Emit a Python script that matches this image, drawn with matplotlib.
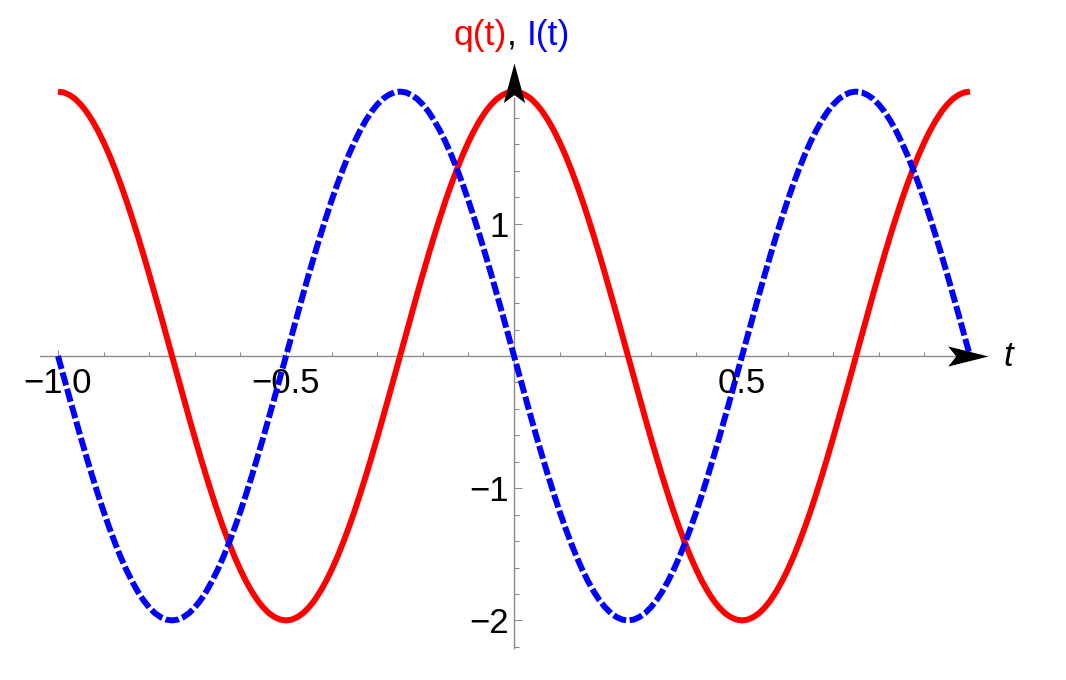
import numpy as np
import matplotlib
matplotlib.use("Agg")
import matplotlib.pyplot as plt
from matplotlib.path import Path
from matplotlib.offsetbox import TextArea, HPacker, AnnotationBbox

plt.rcParams['font.family'] = ['Liberation Sans', 'DejaVu Sans']

# ---- data ----
t_values = np.round(np.arange(-1.0, 1.0 + 1e-9, 0.0125), 4)
q_values = [
    2.000, 1.994, 1.975, 1.945, 1.902, 1.848, 1.782, 1.705, 1.618, 1.521, 1.414,
    1.299, 1.176, 1.045, 0.908, 0.765, 0.618, 0.467, 0.313, 0.157, 0.000,
    -0.157, -0.313, -0.467, -0.618, -0.765, -0.908, -1.045, -1.176, -1.299, -1.414,
    -1.521, -1.618, -1.705, -1.782, -1.848, -1.902, -1.945, -1.975, -1.994, -2.000,
    -1.994, -1.975, -1.945, -1.902, -1.848, -1.782, -1.705, -1.618, -1.521, -1.414,
    -1.299, -1.176, -1.045, -0.908, -0.765, -0.618, -0.467, -0.313, -0.157, 0.000,
    0.157, 0.313, 0.467, 0.618, 0.765, 0.908, 1.045, 1.176, 1.299, 1.414,
    1.521, 1.618, 1.705, 1.782, 1.848, 1.902, 1.945, 1.975, 1.994, 2.000,
    1.994, 1.975, 1.945, 1.902, 1.848, 1.782, 1.705, 1.618, 1.521, 1.414,
    1.299, 1.176, 1.045, 0.908, 0.765, 0.618, 0.467, 0.313, 0.157, 0.000,
    -0.157, -0.313, -0.467, -0.618, -0.765, -0.908, -1.045, -1.176, -1.299, -1.414,
    -1.521, -1.618, -1.705, -1.782, -1.848, -1.902, -1.945, -1.975, -1.994, -2.000,
    -1.994, -1.975, -1.945, -1.902, -1.848, -1.782, -1.705, -1.618, -1.521, -1.414,
    -1.299, -1.176, -1.045, -0.908, -0.765, -0.618, -0.467, -0.313, -0.157, 0.000,
    0.157, 0.313, 0.467, 0.618, 0.765, 0.908, 1.045, 1.176, 1.299, 1.414,
    1.521, 1.618, 1.705, 1.782, 1.848, 1.902, 1.945, 1.975, 1.994, 2.000,
]
i_values = [
    0.000, -0.157, -0.313, -0.467, -0.618, -0.765, -0.908, -1.045, -1.176, -1.299,
    -1.414, -1.521, -1.618, -1.705, -1.782, -1.848, -1.902, -1.945, -1.975, -1.994, -2.000,
    -1.994, -1.975, -1.945, -1.902, -1.848, -1.782, -1.705, -1.618, -1.521, -1.414,
    -1.299, -1.176, -1.045, -0.908, -0.765, -0.618, -0.467, -0.313, -0.157, 0.000,
    0.157, 0.313, 0.467, 0.618, 0.765, 0.908, 1.045, 1.176, 1.299, 1.414,
    1.521, 1.618, 1.705, 1.782, 1.848, 1.902, 1.945, 1.975, 1.994, 2.000,
    1.994, 1.975, 1.945, 1.902, 1.848, 1.782, 1.705, 1.618, 1.521, 1.414,
    1.299, 1.176, 1.045, 0.908, 0.765, 0.618, 0.467, 0.313, 0.157, 0.000,
    -0.157, -0.313, -0.467, -0.618, -0.765, -0.908, -1.045, -1.176, -1.299, -1.414,
    -1.521, -1.618, -1.705, -1.782, -1.848, -1.902, -1.945, -1.975, -1.994, -2.000,
    -1.994, -1.975, -1.945, -1.902, -1.848, -1.782, -1.705, -1.618, -1.521, -1.414,
    -1.299, -1.176, -1.045, -0.908, -0.765, -0.618, -0.467, -0.313, -0.157, 0.000,
    0.157, 0.313, 0.467, 0.618, 0.765, 0.908, 1.045, 1.176, 1.299, 1.414,
    1.521, 1.618, 1.705, 1.782, 1.848, 1.902, 1.945, 1.975, 1.994, 2.000,
    1.994, 1.975, 1.945, 1.902, 1.848, 1.782, 1.705, 1.618, 1.521, 1.414,
    1.299, 1.176, 1.045, 0.908, 0.765, 0.618, 0.467, 0.313, 0.157, 0.000,
]

x_major_ticks = [-1.0, -0.5, 0.5]
x_major_labels = ["\u22121.0", "\u22120.5", "0.5"]
x_minor_ticks = [-0.9, -0.8, -0.7, -0.6, -0.4, -0.3, -0.2, -0.1,
                 0.1, 0.2, 0.3, 0.4, 0.6, 0.7, 0.8, 0.9, 1.0]
y_major_ticks = [-2.0, -1.0, 1.0]
y_major_labels = ["\u22122", "\u22121", "1"]
y_minor_ticks = [-2.2, -1.8, -1.6, -1.4, -1.2, -0.8, -0.6, -0.4, -0.2,
                 0.2, 0.4, 0.6, 0.8, 1.2, 1.4, 1.6, 1.8]

# ---- figure ----
W, H = 1066, 680
fig = plt.figure(figsize=(W / 100, H / 100), dpi=100)
ax = fig.add_axes([0, 0, 1, 1])
ax.patch.set_alpha(0)

x0_px, sx = 514.0, 456.0
y0_px, sy = 356.0, 132.2
ax.set_xlim(-x0_px / sx, (W - x0_px) / sx)
ax.set_ylim(-(H - y0_px) / sy, y0_px / sy)

axis_grey = '#8a8a8a'
for side in ['top', 'right']:
    ax.spines[side].set_visible(False)
ax.spines['bottom'].set_position(('data', 0))
ax.spines['left'].set_position(('data', 0))
ax.spines['bottom'].set_bounds(-1.04, 0.97)
ax.spines['left'].set_bounds(-2.21, 1.95)
for side in ['bottom', 'left']:
    ax.spines[side].set_color(axis_grey)
    ax.spines[side].set_linewidth(1.0)
    ax.spines[side].set_zorder(1)
ax.set_axisbelow(True)

ax.set_xticks(x_major_ticks)
ax.set_xticklabels(x_major_labels)
ax.set_xticks(x_minor_ticks, minor=True)
ax.set_yticks(y_major_ticks)
ax.set_yticklabels(y_major_labels)
ax.set_yticks(y_minor_ticks, minor=True)

ax.tick_params(axis='both', which='both', direction='in', color=axis_grey,
               width=0.75, labelsize=25, labelcolor='black')
ax.tick_params(axis='x', which='major', length=4.0, pad=8)
ax.tick_params(axis='x', which='minor', length=2.8)
ax.tick_params(axis='y', which='major', length=5.8, pad=4)
ax.tick_params(axis='y', which='minor', length=3.4)

# ---- curves ----
ax.plot(t_values, q_values, color='#ff0000', lw=4.3, solid_capstyle='butt',
        solid_joinstyle='round', zorder=3)
ax.plot(t_values, i_values, color='#0000ff', lw=4.3, linestyle=(0, (2.25, 0.6)),
        dash_capstyle='butt', dash_joinstyle='round', zorder=3.1)

# ---- arrow heads ----
xhead = Path([(0, 0), (-1, 0.25), (-0.8, 0), (-1, -0.25), (0, 0)],
             [Path.MOVETO, Path.LINETO, Path.LINETO, Path.LINETO, Path.CLOSEPOLY])
yhead = Path([(0, 0), (0.27, -1), (0, -0.8), (-0.27, -1), (0, 0)],
             [Path.MOVETO, Path.LINETO, Path.LINETO, Path.LINETO, Path.CLOSEPOLY])
ax.plot([1.0395], [0], marker=xhead, markersize=58, color='black', mec='black',
        mew=0, zorder=5, clip_on=False)
ax.plot([0], [2.216], marker=yhead, markersize=57, color='black', mec='black',
        mew=0, zorder=5, clip_on=False)

# ---- axis labels ----
fig.text(1008 / W, 1 - 357 / H, "t", fontsize=25, style='italic',
         ha='center', va='center')

parts = [TextArea("q(t)", textprops=dict(color='#ff0000', fontsize=25.5)),
         TextArea(", ", textprops=dict(color='black', fontsize=25.5)),
         TextArea("I(t)", textprops=dict(color='#0000ff', fontsize=25.5))]
box = HPacker(children=parts, align='baseline', pad=0, sep=0)
ab = AnnotationBbox(box, (512 / W, 1 - 35 / H), xycoords='figure fraction',
                    frameon=False, box_alignment=(0.5, 0.5), pad=0)
fig.add_artist(ab)

fig.savefig('out.png', dpi=100)
